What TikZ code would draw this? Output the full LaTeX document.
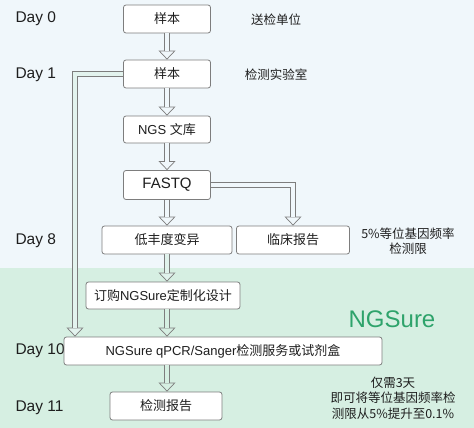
\documentclass[tikz,border=0pt]{standalone}
\usepackage{fontspec}
\setmainfont{Liberation Sans}
\newfontfamily\cjk{Noto Sans CJK SC}
\usepackage{tikz}
\usetikzlibrary{arrows.meta, positioning, calc}
\definecolor{bgblue}{RGB}{240, 247, 251}
\definecolor{bggreen}{RGB}{214, 239, 226}
\definecolor{frame}{RGB}{125, 125, 125}
\definecolor{ink}{RGB}{30, 30, 30}
\definecolor{brand}{RGB}{46, 163, 107}

\begin{document}
\begin{tikzpicture}[x=1pt, y=-1pt,
  box/.style={draw=frame, line width=0.8pt, rounded corners=2.5pt, fill=white,
              minimum height=28pt, inner sep=0pt, text=ink,
              font=\fontsize{13}{15}\selectfont},
  day/.style={anchor=west, text=ink, font=\fontsize{15.5}{17}\selectfont},
  note/.style={align=center, text=ink, font=\cjk\fontsize{12.5}{15.5}\selectfont},
  flow/.style={
    preaction={draw=frame, line width=0.7pt,
               -{Triangle[open, length=9pt, width=17pt, fill=#1]}},
    postaction={draw=frame, line width=0.7pt, double=#1, double distance=4.3pt,
                shorten >=8.4pt}},
  flow/.default=bgblue,
]
  \useasboundingbox (0,0) rectangle (474,428);
  % two bands
  \fill[bgblue] (0,0) rectangle (474,268);
  \fill[bggreen] (0,268) rectangle (474,428);

  \foreach \d/\y in {0/19, 1/75, 8/241, 10/351, 11/408}{
    \node[day] (day\d) at (12,\y) {Day \d};
  }

  \node[box, minimum width=87pt] (smp) at (167,19) {\cjk 样本};
  \node[box, minimum width=87pt] (lab) at (167,74) {\cjk 样本};
  \node[box, minimum width=87pt, minimum height=27pt] (lib) at (167,129.5) {NGS {\cjk 文库}};
  \node[box, minimum width=87pt, minimum height=29pt, font=\fontsize{15}{17}\selectfont] (fq) at (167,185) {FASTQ};
  \node[box, minimum width=130pt] (low) at (167,240) {\cjk 低丰度变异};
  \node[box, minimum width=113pt] (clin) at (293,240) {\cjk 临床报告};
  \node[box, minimum width=154pt, minimum height=27pt] (order) at (163,295.5) {{\cjk 订购}NGSure{\cjk 定制化设计}};
  \node[box, minimum width=318pt] (svc) at (223,351) {NGSure qPCR/Sanger{\cjk 检测服务或试剂盒}};
  \node[box, minimum width=112pt] (rpt) at (166,406) {\cjk 检测报告};

  \node[note] (sender) at (276,20) {送检单位};
  \node[note] (site) at (276,75) {检测实验室};
  \node[note] (lod) at (408,241) {5\%等位基因频率\\检测限};
  \node[text=brand, font=\fontsize{24}{26}\selectfont] (brandname) at (392,319) {NGSure};
  \node[note] (gain) at (393,398) {仅需3天\\即可将等位基因频率检\\测限从5\%提升至0.1\%};

  % arrows
  \foreach \a/\b in {smp/lab, lab/lib, lib/fq}{
    \path[flow] (\a) -- (\b);
  }
  \path[flow] (fq) -- (fq |- low.north);
  \path[flow] (fq.east) -| (clin.north);
  \path[flow=bgblue!40!bggreen] (low) -- (low |- order.north);
  \path[flow=bggreen] (order.south -| low) -- (svc.north -| low);
  \path[flow=bggreen] (svc.south -| low) -- (rpt.north -| low);
  \coordinate (bend) at (75,74);
  \path[flow=bgblue!50!bggreen] (lab.west) -- (bend) -- (bend |- svc.north);
\end{tikzpicture}
\end{document}
